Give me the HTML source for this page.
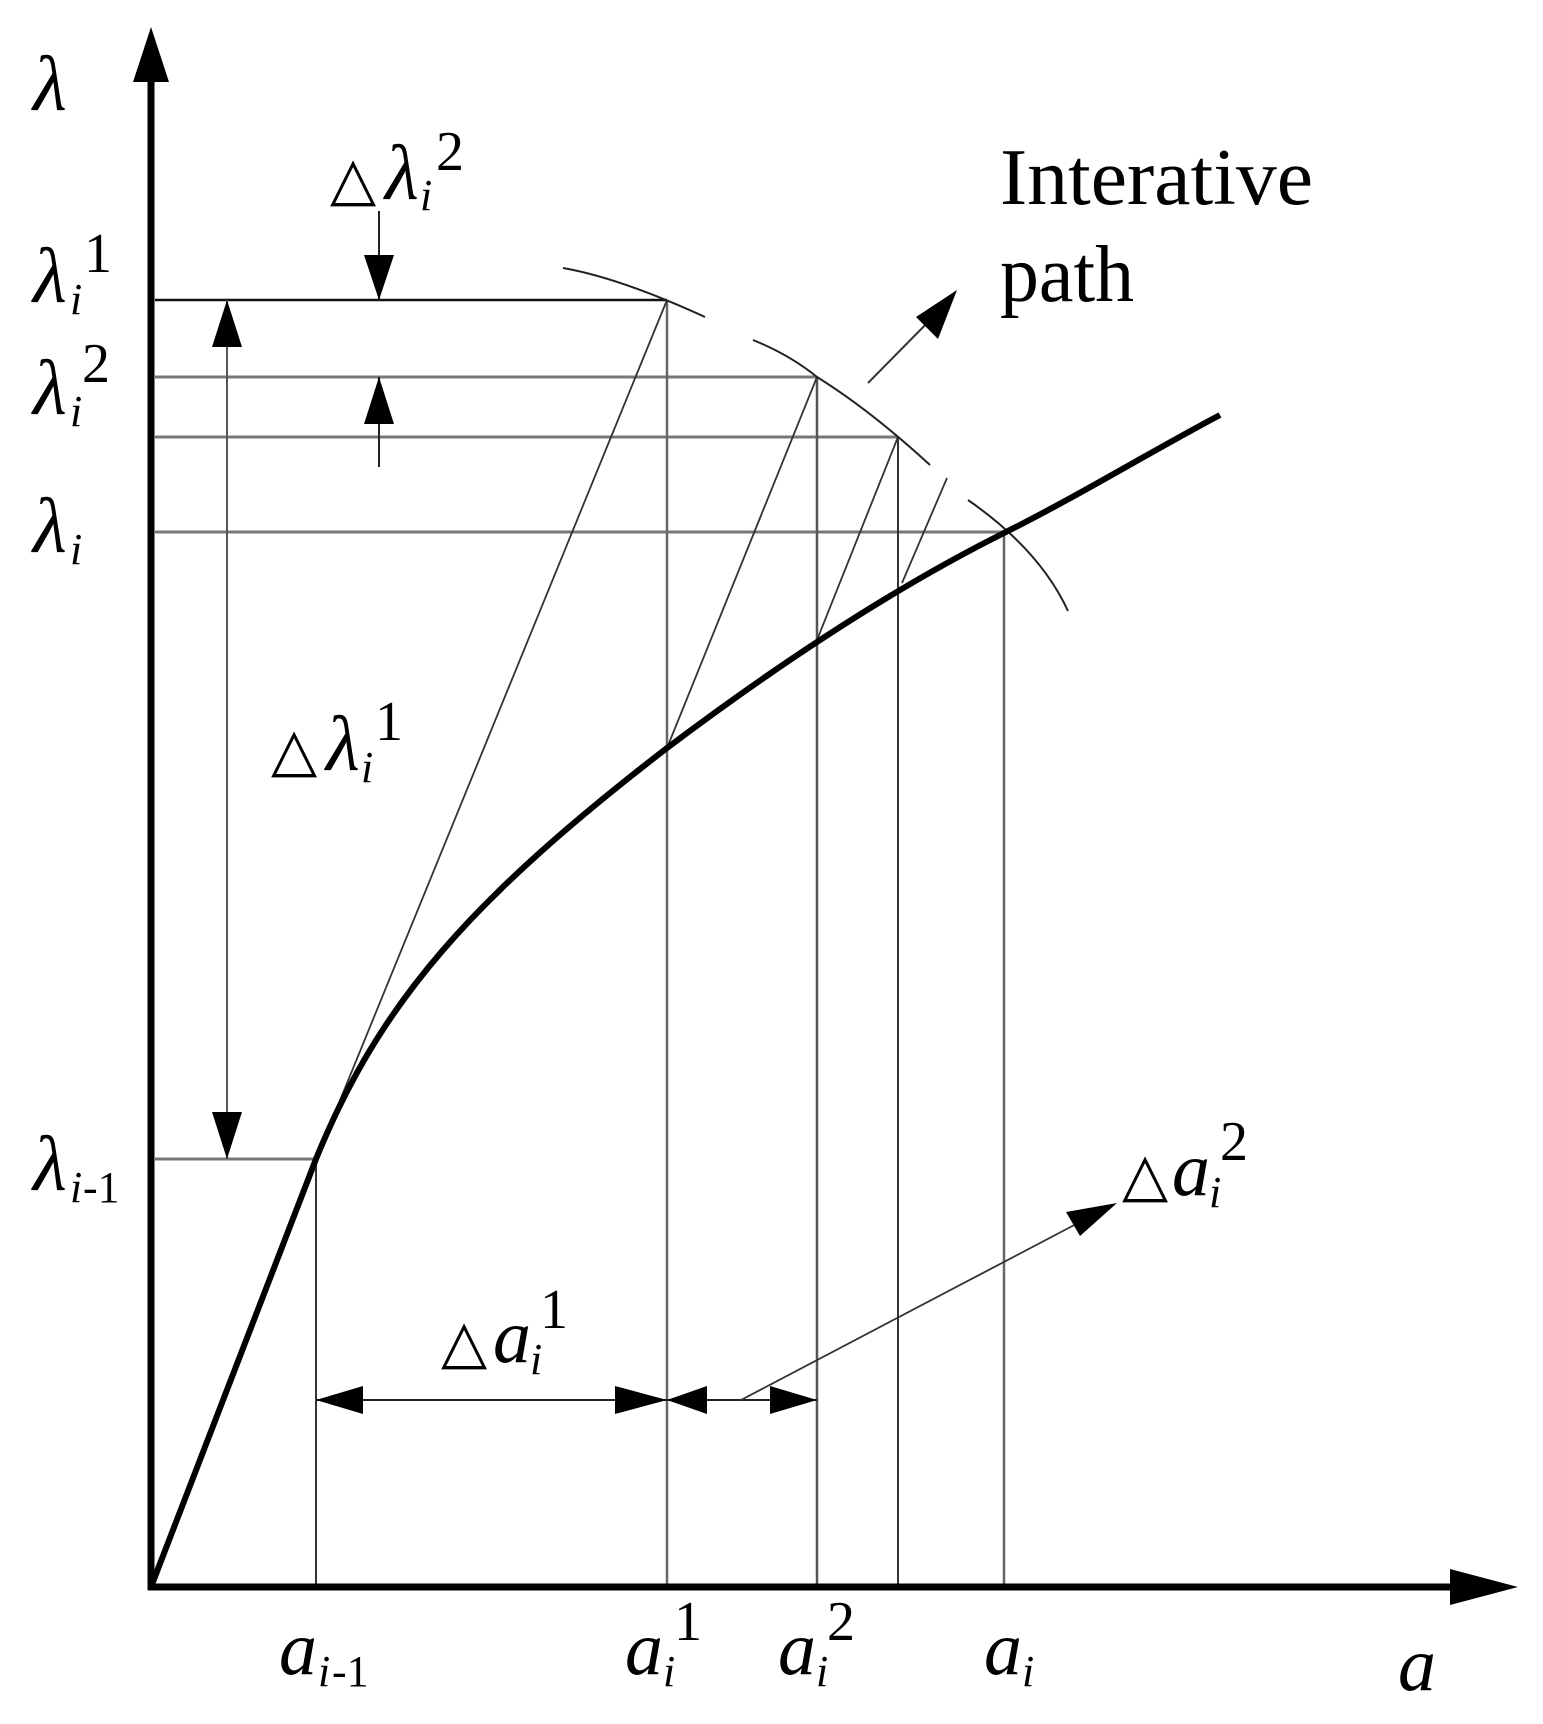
<!DOCTYPE html>
<html><head><meta charset="utf-8"><style>
html,body{margin:0;padding:0;background:#fff}
svg{display:block}
text{font-family:"Liberation Serif","DejaVu Serif",serif;fill:#000}
.it{font-style:italic}
</style></head><body>
<svg width="1543" height="1724" viewBox="0 0 1543 1724" xmlns="http://www.w3.org/2000/svg">
<g fill="none" stroke-linecap="butt">
<line x1="155" y1="300" x2="667" y2="300" stroke="#111" stroke-width="2.5"/>
<line x1="155" y1="377" x2="817" y2="377" stroke="#777" stroke-width="3"/>
<line x1="155" y1="437" x2="898" y2="437" stroke="#777" stroke-width="3"/>
<line x1="155" y1="532" x2="1004" y2="532" stroke="#777" stroke-width="3"/>
<line x1="155" y1="1159" x2="316" y2="1159" stroke="#777" stroke-width="3"/>
<line x1="316" y1="1159" x2="316" y2="1587" stroke="#333" stroke-width="2"/>
<line x1="667" y1="300" x2="667" y2="1587" stroke="#666" stroke-width="2.5"/>
<line x1="817" y1="377" x2="817" y2="1587" stroke="#555" stroke-width="2.5"/>
<line x1="898" y1="437" x2="898" y2="1587" stroke="#333" stroke-width="2"/>
<line x1="1004" y1="532" x2="1004" y2="1587" stroke="#666" stroke-width="2.5"/>
<line x1="316" y1="1159" x2="667" y2="300" stroke="#333" stroke-width="1.8"/>
<line x1="667" y1="748" x2="817" y2="377" stroke="#333" stroke-width="1.8"/>
<line x1="817" y1="640" x2="898" y2="437" stroke="#333" stroke-width="1.8"/>
<line x1="902" y1="583" x2="947" y2="478" stroke="#333" stroke-width="1.8"/>
<path d="M563 268 Q620 278 705 317" stroke="#222" stroke-width="2"/>
<path d="M753 340 Q790 355 817 377 Q870 410 930 465" stroke="#222" stroke-width="2"/>
<path d="M968 500 Q1040 550 1068 611" stroke="#222" stroke-width="2"/>
<path d="M151 1587 L316 1159 C380 1002 470 900 667 748 C760 678 880 595 1004 533 C1080 495 1150 452 1220 415" stroke="#000" stroke-width="6"/>
<line x1="151" y1="80" x2="151" y2="1590" stroke="#000" stroke-width="7"/>
<line x1="148" y1="1587" x2="1450" y2="1587" stroke="#000" stroke-width="7"/>
<line x1="227" y1="300" x2="227" y2="1159" stroke="#555" stroke-width="2"/>
<line x1="379" y1="211" x2="379" y2="300" stroke="#222" stroke-width="2"/>
<line x1="379" y1="377" x2="379" y2="467" stroke="#222" stroke-width="2"/>
<line x1="316" y1="1400" x2="817" y2="1400" stroke="#222" stroke-width="2"/>
<line x1="741" y1="1400" x2="1080" y2="1222" stroke="#333" stroke-width="1.8"/>
<line x1="868" y1="383" x2="940" y2="310" stroke="#333" stroke-width="2"/>
</g>
<g fill="#000">
<polygon points="151,27 133,82 169,82"/>
<polygon points="1518,1587 1450,1569 1450,1605"/>
<polygon points="227,300 212,347 242,347"/>
<polygon points="227,1159 212,1112 242,1112"/>
<polygon points="379,300 364,255 394,255"/>
<polygon points="379,377 364,424 394,424"/>
<polygon points="316,1400 363,1386 363,1414"/>
<polygon points="667,1400 615,1386 615,1414"/>
<polygon points="667,1400 707,1386 707,1414"/>
<polygon points="817,1400 770,1386 770,1414"/>
<polygon points="1117,1203 1066,1212 1080,1236"/>
<polygon points="957,290 916,317 938,339"/>
</g>
<text class="it" x="33" y="110" font-size="78">λ</text>
<text x="330" y="199" font-size="60">△</text>
<text class="it" x="385" y="199" font-size="78">λ</text>
<text class="it" x="420" y="210" font-size="44">i</text>
<text x="436" y="170" font-size="56">2</text>
<text class="it" x="33" y="302" font-size="78">λ</text>
<text class="it" x="70" y="314" font-size="44">i</text>
<text x="84" y="272" font-size="56">1</text>
<text class="it" x="33" y="414" font-size="78">λ</text>
<text class="it" x="70" y="426" font-size="44">i</text>
<text x="82" y="382" font-size="56">2</text>
<text class="it" x="33" y="552" font-size="78">λ</text>
<text class="it" x="70" y="564" font-size="44">i</text>
<text class="it" x="33" y="1190" font-size="78">λ</text>
<text class="it" x="70" y="1202" font-size="44">i</text>
<text x="83" y="1202" font-size="44">-1</text>
<text x="271" y="770" font-size="60">△</text>
<text class="it" x="326" y="770" font-size="78">λ</text>
<text class="it" x="361" y="782" font-size="44">i</text>
<text x="375" y="740" font-size="56">1</text>
<text x="1000" y="204" font-size="80" textLength="313" lengthAdjust="spacingAndGlyphs">Interative</text>
<text x="1000" y="301" font-size="80" textLength="134" lengthAdjust="spacingAndGlyphs">path</text>
<text x="441" y="1362" font-size="60">△</text>
<text class="it" x="493" y="1362" font-size="76">a</text>
<text class="it" x="530" y="1374" font-size="44">i</text>
<text x="540" y="1328" font-size="56">1</text>
<text x="1122" y="1195" font-size="60">△</text>
<text class="it" x="1172" y="1195" font-size="76">a</text>
<text class="it" x="1209" y="1207" font-size="44">i</text>
<text x="1220" y="1160" font-size="56">2</text>
<text class="it" x="279" y="1674" font-size="76">a</text>
<text class="it" x="318" y="1686" font-size="44">i</text>
<text x="332" y="1686" font-size="44">-1</text>
<text class="it" x="625" y="1674" font-size="76">a</text>
<text class="it" x="663" y="1686" font-size="44">i</text>
<text x="674" y="1640" font-size="56">1</text>
<text class="it" x="778" y="1674" font-size="76">a</text>
<text class="it" x="816" y="1686" font-size="44">i</text>
<text x="827" y="1640" font-size="56">2</text>
<text class="it" x="984" y="1674" font-size="76">a</text>
<text class="it" x="1022" y="1686" font-size="44">i</text>
<text class="it" x="1398" y="1690" font-size="76">a</text>
</svg>
</body></html>
